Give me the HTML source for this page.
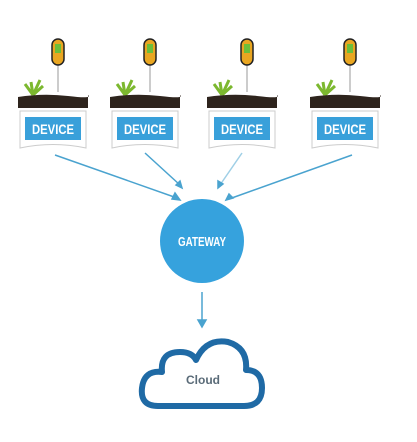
<!DOCTYPE html>
<html><head><style>body{margin:0;background:#fff}svg{display:block}</style></head><body>
<svg width="417" height="442" viewBox="0 0 417 442" xmlns="http://www.w3.org/2000/svg">
<defs>
<g id="dev">
  <line x1="5" y1="62" x2="5" y2="92" stroke="#ccc" stroke-width="2"/>
  <rect x="-1" y="39" width="12" height="26" rx="6" fill="#e9a621" stroke="#222" stroke-width="1.5"/>
  <rect x="2" y="44" width="6" height="9" fill="#6cbf3a"/>
  <path d="M-20 95 L-22 82 M-20 95 L-28 84 M-20 95 L-13 80 M-20 95 L-10 86" stroke="#7cb82f" stroke-width="3" fill="none"/>
  <path d="M-35 97 Q-10 93 15 96 T35 95 L35 108 L-35 108 Z" fill="#2e241d"/>
  <path d="M-33 111 L33 111 L33 148 Q0 141 -33 148 Z" fill="#fff" stroke="#ccc" stroke-width="1"/>
  <rect x="-28" y="117" width="56" height="23" fill="#39a0da"/>
  <text x="0" y="134" text-anchor="middle" textLength="42" lengthAdjust="spacingAndGlyphs" font-family="Liberation Sans, sans-serif" font-weight="bold" font-size="14" fill="#fff">DEVICE</text>
</g>
</defs>
<use href="#dev" x="53" y="0"/>
<use href="#dev" x="145" y="0"/>
<use href="#dev" x="242" y="0"/>
<use href="#dev" x="345" y="0"/>
<g stroke="#4aa3cf" stroke-width="1.5" fill="#4aa3cf">
  <line x1="55" y1="155" x2="177" y2="198"/>
  <line x1="145" y1="153" x2="180" y2="185"/>
  <line x1="242" y1="153" x2="220" y2="185" stroke="#9fcfe6"/>
  <line x1="352" y1="155" x2="229" y2="199"/>
  <line x1="202" y1="292" x2="202" y2="322"/>
  <path d="M180 200 L172 199 L175 193 Z"/>
  <path d="M182 188 L176 185 L180 181 Z"/>
  <path d="M218 188 L218 181 L223 184 Z"/>
  <path d="M226 200 L229 194 L233 198 Z"/>
  <path d="M202 327 L198 320 L206 320 Z"/>
</g>
<circle cx="202" cy="241" r="42" fill="#36a2dd"/>
<text x="202" y="246" text-anchor="middle" textLength="48" lengthAdjust="spacingAndGlyphs" font-family="Liberation Sans, sans-serif" font-weight="bold" font-size="13" fill="#fff">GATEWAY</text>
<path d="M158 406 Q140 406 142 388 Q144 370 162 372 Q160 352 180 352 Q192 352 196 360 Q206 338 228 342 Q248 348 246 370 Q262 370 262 388 Q262 406 244 406 Z" fill="#fff" stroke="#1f6aa5" stroke-width="6" stroke-linejoin="round"/>
<text x="203" y="384" text-anchor="middle" font-family="Liberation Sans, sans-serif" font-weight="bold" font-size="12" fill="#5a6b78">Cloud</text>
</svg>
</body></html>
